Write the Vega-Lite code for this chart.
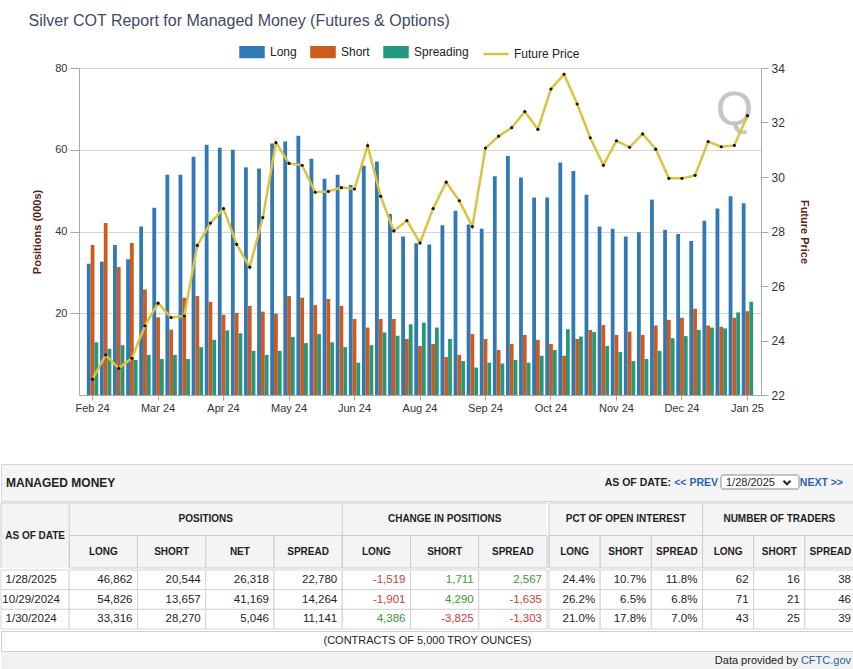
{
  "$schema": "https://vega.github.io/schema/vega-lite/v6.json",
  "background": "white",
  "padding": {"left": 0, "top": 13, "right": 0, "bottom": 0},
  "title": {"text": "Silver COT Report for Managed Money (Futures & Options)", "anchor": "start", "dx": 28, "fontSize": 16, "fontWeight": "normal", "color": "#3e4a66", "offset": 10},
  "config": {
    "font": "Liberation Sans",
    "view": {"stroke": null},
    "axis": {"labelFont": "Liberation Sans", "titleFont": "Liberation Sans"}
  },
  "datasets": {
    "cot": [
      {"w": 0, "Long": 32.1, "Short": 36.7, "Spreading": 12.9, "Price": 22.58},
      {"w": 1, "Long": 32.6, "Short": 42.1, "Spreading": 11.3, "Price": 23.47},
      {"w": 2, "Long": 36.7, "Short": 31.3, "Spreading": 12.2, "Price": 22.98},
      {"w": 3, "Long": 33.2, "Short": 37.2, "Spreading": 8.6, "Price": 23.35},
      {"w": 4, "Long": 41.2, "Short": 25.8, "Spreading": 9.8, "Price": 24.54},
      {"w": 5, "Long": 45.8, "Short": 19.0, "Spreading": 8.8, "Price": 25.37},
      {"w": 6, "Long": 53.9, "Short": 16.0, "Spreading": 9.8, "Price": 24.84},
      {"w": 7, "Long": 53.9, "Short": 23.8, "Spreading": 8.8, "Price": 24.9},
      {"w": 8, "Long": 58.3, "Short": 24.2, "Spreading": 11.7, "Price": 27.49},
      {"w": 9, "Long": 61.2, "Short": 22.8, "Spreading": 13.5, "Price": 28.31},
      {"w": 10, "Long": 60.5, "Short": 19.6, "Spreading": 15.8, "Price": 28.84},
      {"w": 11, "Long": 60.0, "Short": 20.1, "Spreading": 15.1, "Price": 27.53},
      {"w": 12, "Long": 55.7, "Short": 21.8, "Spreading": 10.8, "Price": 26.69},
      {"w": 13, "Long": 55.4, "Short": 20.4, "Spreading": 9.8, "Price": 28.51},
      {"w": 14, "Long": 61.5, "Short": 19.9, "Spreading": 10.8, "Price": 31.26},
      {"w": 15, "Long": 62.0, "Short": 24.2, "Spreading": 14.2, "Price": 30.5},
      {"w": 16, "Long": 63.4, "Short": 23.8, "Spreading": 12.7, "Price": 30.43},
      {"w": 17, "Long": 57.8, "Short": 22.0, "Spreading": 14.9, "Price": 29.44},
      {"w": 18, "Long": 52.9, "Short": 23.5, "Spreading": 12.9, "Price": 29.47},
      {"w": 19, "Long": 53.9, "Short": 21.8, "Spreading": 11.7, "Price": 29.61},
      {"w": 20, "Long": 51.4, "Short": 18.6, "Spreading": 7.9, "Price": 29.56},
      {"w": 21, "Long": 56.1, "Short": 16.5, "Spreading": 12.2, "Price": 31.15},
      {"w": 22, "Long": 57.1, "Short": 18.6, "Spreading": 15.3, "Price": 29.29},
      {"w": 23, "Long": 44.3, "Short": 18.6, "Spreading": 14.5, "Price": 28.02},
      {"w": 24, "Long": 38.8, "Short": 13.7, "Spreading": 17.3, "Price": 28.4},
      {"w": 25, "Long": 37.1, "Short": 12.0, "Spreading": 17.7, "Price": 27.58},
      {"w": 26, "Long": 36.8, "Short": 12.5, "Spreading": 16.5, "Price": 28.84},
      {"w": 27, "Long": 41.5, "Short": 9.3, "Spreading": 13.7, "Price": 29.81},
      {"w": 28, "Long": 45.1, "Short": 9.8, "Spreading": 8.3, "Price": 29.13},
      {"w": 29, "Long": 41.7, "Short": 14.9, "Spreading": 6.7, "Price": 28.18},
      {"w": 30, "Long": 40.7, "Short": 13.7, "Spreading": 7.9, "Price": 31.06},
      {"w": 31, "Long": 53.5, "Short": 11.0, "Spreading": 7.7, "Price": 31.5},
      {"w": 32, "Long": 58.5, "Short": 12.5, "Spreading": 8.6, "Price": 31.81},
      {"w": 33, "Long": 53.2, "Short": 14.7, "Spreading": 7.9, "Price": 32.4},
      {"w": 34, "Long": 48.3, "Short": 13.5, "Spreading": 9.6, "Price": 31.75},
      {"w": 35, "Long": 48.3, "Short": 12.5, "Spreading": 11.0, "Price": 33.23},
      {"w": 36, "Long": 56.9, "Short": 9.6, "Spreading": 16.1, "Price": 33.77},
      {"w": 37, "Long": 54.8, "Short": 13.7, "Spreading": 14.3, "Price": 32.68},
      {"w": 38, "Long": 49.0, "Short": 15.9, "Spreading": 15.4, "Price": 31.44},
      {"w": 39, "Long": 41.2, "Short": 17.1, "Spreading": 12.0, "Price": 30.43},
      {"w": 40, "Long": 40.7, "Short": 14.7, "Spreading": 10.5, "Price": 31.33},
      {"w": 41, "Long": 38.8, "Short": 15.5, "Spreading": 8.3, "Price": 31.09},
      {"w": 42, "Long": 39.8, "Short": 14.7, "Spreading": 8.8, "Price": 31.58},
      {"w": 43, "Long": 47.8, "Short": 17.0, "Spreading": 10.8, "Price": 31.02},
      {"w": 44, "Long": 40.4, "Short": 18.4, "Spreading": 13.9, "Price": 29.95},
      {"w": 45, "Long": 39.4, "Short": 18.9, "Spreading": 14.4, "Price": 29.95},
      {"w": 46, "Long": 37.7, "Short": 21.1, "Spreading": 15.9, "Price": 30.06},
      {"w": 47, "Long": 42.6, "Short": 17.0, "Spreading": 16.5, "Price": 31.3},
      {"w": 48, "Long": 45.6, "Short": 16.7, "Spreading": 16.3, "Price": 31.11},
      {"w": 49, "Long": 48.6, "Short": 18.9, "Spreading": 20.2, "Price": 31.16},
      {"w": 50, "Long": 46.9, "Short": 20.5, "Spreading": 22.8, "Price": 32.25}
    ],
    "tbl": [
      {"date": "1/28/2025", "long": "46,862", "short": "20,544", "net": "26,318", "spread": "22,780", "chLong": "-1,519", "chShort": "1,711", "chSpread": "2,567", "pctLong": "24.4%", "pctShort": "10.7%", "pctSpread": "11.8%", "nLong": "62", "nShort": "16", "nSpread": "38"},
      {"date": "10/29/2024", "long": "54,826", "short": "13,657", "net": "41,169", "spread": "14,264", "chLong": "-1,901", "chShort": "4,290", "chSpread": "-1,635", "pctLong": "26.2%", "pctShort": "6.5%", "pctSpread": "6.8%", "nLong": "71", "nShort": "21", "nSpread": "46"},
      {"date": "1/30/2024", "long": "33,316", "short": "28,270", "net": "5,046", "spread": "11,141", "chLong": "4,386", "chShort": "-3,825", "chSpread": "-1,303", "pctLong": "21.0%", "pctShort": "17.8%", "pctSpread": "7.0%", "nLong": "43", "nShort": "25", "nSpread": "39"}
    ],
    "hdrL": [
      {"col": "long", "label": "LONG"}, {"col": "short", "label": "SHORT"}, {"col": "net", "label": "NET"}, {"col": "spread", "label": "SPREAD"},
      {"col": "chLong", "label": "LONG"}, {"col": "chShort", "label": "SHORT"}, {"col": "chSpread", "label": "SPREAD"}
    ],
    "hdrR": [
      {"col": "pctLong", "label": "LONG"}, {"col": "pctShort", "label": "SHORT"}, {"col": "pctSpread", "label": "SPREAD"},
      {"col": "nLong", "label": "LONG"}, {"col": "nShort", "label": "SHORT"}, {"col": "nSpread", "label": "SPREAD"}
    ]
  },
  "spacing": 50,
  "vconcat": [
    {
      "spacing": 0,
      "hconcat": [
        {
          "width": 1,
          "height": 327,
          "data": {"values": [{}]},
          "mark": {"type": "point", "size": 1, "opacity": 0}
        },
        {
          "width": 682,
          "height": 327,
          "encoding": {
            "x": {"field": "w", "type": "ordinal", "scale": {"paddingInner": 0.13, "paddingOuter": 0.6},
              "axis": {"values": [0, 5, 10, 15, 20, 25, 30, 35, 40, 45, 50], "labelExpr": "['Feb 24','Mar 24','Apr 24','May 24','Jun 24','Aug 24','Sep 24','Oct 24','Nov 24','Dec 24','Jan 25'][datum.value / 5]", "labelAngle": 0, "title": null, "domainColor": "#a8a8a8", "tickColor": "#a8a8a8", "tickSize": 5, "labelFontSize": 11, "labelColor": "#333", "labelPadding": 2, "grid": false}}
          },
          "layer": [
            {
              "data": {"values": [{}]},
              "mark": {"type": "text", "text": "Q", "fontSize": 48, "color": "#c6c6c6", "baseline": "middle"},
              "encoding": {
                "x": {"datum": 49, "type": "ordinal"},
                "y": {"datum": 0.87, "type": "quantitative", "scale": {"domain": [0, 1]}, "axis": {"orient": "left", "offset": 77, "domain": true, "domainColor": "transparent", "ticks": false, "labels": false, "grid": false, "title": null}}
              }
            },
            {
              "data": {"name": "cot"},
              "transform": [{"fold": ["Long", "Short", "Spreading"], "as": ["series", "value"]}],
              "mark": {"type": "bar"},
              "encoding": {
                "xOffset": {"field": "series", "type": "nominal", "scale": {"domain": ["Long", "Short", "Spreading"], "paddingInner": 0}},
                "y": {"field": "value", "type": "quantitative", "scale": {"domain": [0, 80]},
                  "axis": {"orient": "left", "values": [20, 40, 60, 80], "title": "Positions (000s)", "titleColor": "#5a1d1d", "titleFontSize": 11, "titleFontWeight": "bold", "titlePadding": 12, "labelFontSize": 11, "labelColor": "#333", "labelPadding": 3, "tickSize": 9, "tickColor": "#a8a8a8", "domainColor": "#a8a8a8", "grid": true, "gridColor": "#d6d6d6"}},
                "color": {"field": "series", "type": "nominal",
                  "scale": {"domain": ["Long", "Short", "Spreading", "Future Price"], "range": ["#3079b5", "#cd5b1e", "#23987d", "#dcc23e"]},
                  "legend": {"orient": "none", "legendX": 238, "legendY": -29, "direction": "horizontal", "title": null, "labelFontSize": 12, "labelColor": "#222", "symbolSize": 529, "columnPadding": 9, "labelOffset": 5,
                    "encode": {"symbols": {"update": {
                      "shape": {"signal": "datum.value === 'Future Price' ? 'M-1.1,0H1.1' : 'M-1,-0.42H1V0.42H-1Z'"},
                      "fill": {"signal": "datum.value === 'Future Price' ? 'transparent' : scale('color', datum.value)"},
                      "stroke": {"signal": "datum.value === 'Future Price' ? '#dcc23e' : 'transparent'"},
                      "strokeWidth": {"value": 2.5},
                      "opacity": {"value": 1}
                    }}}}
                }
              }
            },
            {
              "data": {"name": "cot"},
              "encoding": {
                "y": {"field": "Price", "type": "quantitative", "scale": {"domain": [22, 34]},
                  "axis": {"orient": "right", "values": [22, 24, 26, 28, 30, 32, 34], "title": "Future Price", "titleColor": "#5a1d1d", "titleFontSize": 11, "titleFontWeight": "bold", "titlePadding": 14, "labelFontSize": 12, "labelColor": "#333", "labelPadding": 3, "tickSize": 7, "tickColor": "#a8a8a8", "domainColor": "#a8a8a8", "grid": false}}
              },
              "layer": [
                {"mark": {"type": "line", "strokeWidth": 2.5}, "encoding": {"color": {"datum": "Future Price"}}},
                {"mark": {"type": "point", "filled": true, "color": "#111", "size": 10, "opacity": 1}}
              ]
            }
          ],
          "resolve": {"scale": {"y": "independent"}}
        }
      ]
    },
    {
      "spacing": 0,
      "vconcat": [
        {
          "width": 853,
          "height": 37,
          "view": {"fill": "#f5f5f5", "stroke": "#d6d6d6"},
          "data": {"values": [{}]},
          "layer": [
            {"mark": {"type": "text", "align": "left", "dx": 5, "fontSize": 12, "fontWeight": "bold", "color": "#1e1e1e"}, "encoding": {"x": {"value": 0}, "text": {"value": "MANAGED MONEY"}}},
            {"mark": {"type": "text", "align": "right", "dx": -183, "fontSize": 10.5, "fontWeight": "bold", "color": "#1e1e1e"}, "encoding": {"x": {"value": "width"}, "text": {"value": "AS OF DATE:"}}},
            {"mark": {"type": "text", "align": "right", "dx": -136, "fontSize": 10.5, "fontWeight": "bold", "color": "#2e62b0"}, "encoding": {"x": {"value": "width"}, "text": {"value": "<< PREV"}}},
            {"mark": {"type": "rect", "fill": "white", "stroke": "#8a8a8a", "cornerRadius": 2, "xOffset": -133, "x2Offset": -55, "yOffset": 11, "y2Offset": -12}, "encoding": {"x": {"value": "width"}, "x2": {"value": "width"}, "y": {"value": 0}, "y2": {"value": "height"}}},
            {"mark": {"type": "text", "align": "left", "dx": -128, "fontSize": 11, "color": "#1e1e1e"}, "encoding": {"x": {"value": "width"}, "text": {"value": "1/28/2025"}}},
            {"mark": {"type": "point", "shape": "M-1,-0.5L0,0.5L1,-0.5", "filled": false, "stroke": "#222", "strokeWidth": 2, "size": 50, "xOffset": -67, "opacity": 1}, "encoding": {"x": {"value": "width"}}},
            {"mark": {"type": "text", "align": "right", "dx": -11, "fontSize": 10.5, "fontWeight": "bold", "color": "#2e62b0"}, "encoding": {"x": {"value": "width"}, "text": {"value": "NEXT >>"}}}
          ]
        },
        {
          "spacing": 0,
          "hconcat": [
            {
              "width": 546,
              "height": 65,
              "view": {"fill": "#f4f4f4"},
              "layer": [
                {"data": {"name": "hdrL"}, "mark": {"type": "rect", "fill": "#f4f4f4", "stroke": "#cdcdcd", "strokeWidth": 1},
                  "encoding": {
                    "x": {"field": "col", "type": "nominal", "scale": {"domain": ["date", "long", "short", "net", "spread", "chLong", "chShort", "chSpread"], "paddingInner": 0, "paddingOuter": 0}, "axis": null},
                    "y": {"datum": "sub", "type": "nominal", "scale": {"domain": ["grp", "sub"], "paddingInner": 0, "paddingOuter": 0}, "axis": null}}},
                {"data": {"name": "hdrL"}, "mark": {"type": "text", "fontSize": 10, "fontWeight": "bold", "color": "#1e1e1e"},
                  "encoding": {"x": {"field": "col", "type": "nominal", "axis": null}, "y": {"datum": "sub", "type": "nominal", "axis": null}, "text": {"field": "label"}}},
                {"data": {"values": [{"c": "short", "t": "POSITIONS"}]}, "mark": {"type": "text", "fontSize": 10, "fontWeight": "bold", "color": "#1e1e1e"},
                  "encoding": {"x": {"field": "c", "type": "nominal", "bandPosition": 1, "axis": null}, "y": {"datum": "grp", "type": "nominal", "axis": null}, "text": {"field": "t"}}},
                {"data": {"values": [{"c": "chShort", "t": "CHANGE IN POSITIONS"}]}, "mark": {"type": "text", "fontSize": 10, "fontWeight": "bold", "color": "#1e1e1e"},
                  "encoding": {"x": {"field": "c", "type": "nominal", "axis": null}, "y": {"datum": "grp", "type": "nominal", "axis": null}, "text": {"field": "t"}}},
                {"data": {"values": [{"c": "date", "t": "AS OF DATE"}]}, "mark": {"type": "text", "fontSize": 10, "fontWeight": "bold", "color": "#1e1e1e"},
                  "encoding": {"x": {"field": "c", "type": "nominal", "axis": null}, "text": {"field": "t"}}},
                {"data": {"values": [{"c": "date"}, {"c": "long"}, {"c": "chLong"}]}, "mark": {"type": "rule", "color": "#cdcdcd"},
                  "encoding": {"x": {"field": "c", "type": "nominal", "bandPosition": 0, "axis": null}}},
                {"data": {"values": [{"r": "grp"}]}, "mark": {"type": "rule", "color": "#cdcdcd"},
                  "encoding": {"y": {"field": "r", "type": "nominal", "bandPosition": 0, "axis": null}}}
              ]
            },
            {
              "width": 307,
              "height": 65,
              "view": {"fill": "#f4f4f4"},
              "layer": [
                {"data": {"name": "hdrR"}, "mark": {"type": "rect", "fill": "#f4f4f4", "stroke": "#cdcdcd", "strokeWidth": 1},
                  "encoding": {
                    "x": {"field": "col", "type": "nominal", "scale": {"domain": ["pctLong", "pctShort", "pctSpread", "nLong", "nShort", "nSpread"], "paddingInner": 0, "paddingOuter": 0}, "axis": null},
                    "y": {"datum": "sub", "type": "nominal", "scale": {"domain": ["grp", "sub"], "paddingInner": 0, "paddingOuter": 0}, "axis": null}}},
                {"data": {"name": "hdrR"}, "mark": {"type": "text", "fontSize": 10, "fontWeight": "bold", "color": "#1e1e1e"},
                  "encoding": {"x": {"field": "col", "type": "nominal", "axis": null}, "y": {"datum": "sub", "type": "nominal", "axis": null}, "text": {"field": "label"}}},
                {"data": {"values": [{"c": "pctShort", "t": "PCT OF OPEN INTEREST"}, {"c": "nShort", "t": "NUMBER OF TRADERS"}]}, "mark": {"type": "text", "fontSize": 10, "fontWeight": "bold", "color": "#1e1e1e"},
                  "encoding": {"x": {"field": "c", "type": "nominal", "axis": null}, "y": {"datum": "grp", "type": "nominal", "axis": null}, "text": {"field": "t"}}},
                {"data": {"values": [{"c": "pctLong"}, {"c": "nLong"}]}, "mark": {"type": "rule", "color": "#cdcdcd"},
                  "encoding": {"x": {"field": "c", "type": "nominal", "bandPosition": 0, "axis": null}}},
                {"data": {"values": [{"c": "nSpread"}]}, "mark": {"type": "rule", "color": "#cdcdcd"},
                  "encoding": {"x": {"field": "c", "type": "nominal", "bandPosition": 1, "axis": null}}},
                {"data": {"values": [{"r": "grp"}]}, "mark": {"type": "rule", "color": "#cdcdcd"},
                  "encoding": {"y": {"field": "r", "type": "nominal", "bandPosition": 0, "axis": null}}}
              ]
            }
          ]
        },
        {
          "spacing": 0,
          "hconcat": [
            {
              "width": 546,
              "height": 59,
              "data": {"name": "tbl"},
              "encoding": {
                "y": {"field": "date", "type": "nominal", "sort": null, "scale": {"domain": ["1/28/2025", "10/29/2024", "1/30/2024"], "paddingInner": 0, "paddingOuter": 0}, "axis": null}
              },
              "layer": [
                {"transform": [{"fold": ["date", "long", "short", "net", "spread", "chLong", "chShort", "chSpread"], "as": ["col", "txt"]}],
                  "mark": {"type": "rect", "fill": "white", "stroke": "#d3d3d3", "strokeWidth": 1},
                  "encoding": {"x": {"field": "col", "type": "nominal", "scale": {"domain": ["date", "long", "short", "net", "spread", "chLong", "chShort", "chSpread"], "paddingInner": 0, "paddingOuter": 0}, "axis": null}}},
                {"transform": [{"fold": ["long", "short", "net", "spread", "chLong", "chShort", "chSpread"], "as": ["col", "txt"]}],
                  "mark": {"type": "text", "align": "right", "dx": -5, "fontSize": 11.5},
                  "encoding": {"x": {"field": "col", "type": "nominal", "bandPosition": 1, "axis": null}, "text": {"field": "txt"},
                    "color": {"condition": [{"test": "indexof(datum.col,'ch')===0 && indexof(datum.txt,'-')===0", "value": "#cc3a36"}, {"test": "indexof(datum.col,'ch')===0", "value": "#3a963a"}], "value": "#222222"}}},
                {"mark": {"type": "text", "fontSize": 11.5, "color": "#222222", "dx": -4},
                  "encoding": {"x": {"datum": "date", "type": "nominal", "axis": null}, "text": {"field": "date"}}}
              ]
            },
            {
              "width": 307,
              "height": 59,
              "data": {"name": "tbl"},
              "transform": [{"fold": ["pctLong", "pctShort", "pctSpread", "nLong", "nShort", "nSpread"], "as": ["col", "txt"]}],
              "encoding": {
                "x": {"field": "col", "type": "nominal", "scale": {"domain": ["pctLong", "pctShort", "pctSpread", "nLong", "nShort", "nSpread"], "paddingInner": 0, "paddingOuter": 0}, "axis": null},
                "y": {"field": "date", "type": "nominal", "sort": null, "scale": {"domain": ["1/28/2025", "10/29/2024", "1/30/2024"], "paddingInner": 0, "paddingOuter": 0}, "axis": null}
              },
              "layer": [
                {"mark": {"type": "rect", "fill": "white", "stroke": "#d3d3d3", "strokeWidth": 1}},
                {"mark": {"type": "text", "align": "right", "dx": -5, "fontSize": 11.5, "color": "#222222"},
                  "encoding": {"x": {"field": "col", "type": "nominal", "bandPosition": 1, "axis": null}, "text": {"field": "txt"}}}
              ]
            }
          ]
        },
        {
          "width": 853,
          "height": 20,
          "view": {"fill": "white", "stroke": "#cfcfcf"},
          "data": {"values": [{}]},
          "mark": {"type": "text", "fontSize": 11, "color": "#222222"},
          "encoding": {"text": {"value": "(CONTRACTS OF 5,000 TROY OUNCES)"}}
        },
        {
          "width": 853,
          "height": 19,
          "view": {"fill": "#f1f1f1"},
          "data": {"values": [{}]},
          "layer": [
            {"mark": {"type": "text", "align": "right", "dx": -56, "dy": -1, "fontSize": 11, "color": "#222222"}, "encoding": {"x": {"value": "width"}, "text": {"value": "Data provided by"}}},
            {"mark": {"type": "text", "align": "right", "dx": -3, "dy": -1, "fontSize": 11, "color": "#2a5fa8"}, "encoding": {"x": {"value": "width"}, "text": {"value": "CFTC.gov"}}}
          ]
        }
      ]
    }
  ]
}
